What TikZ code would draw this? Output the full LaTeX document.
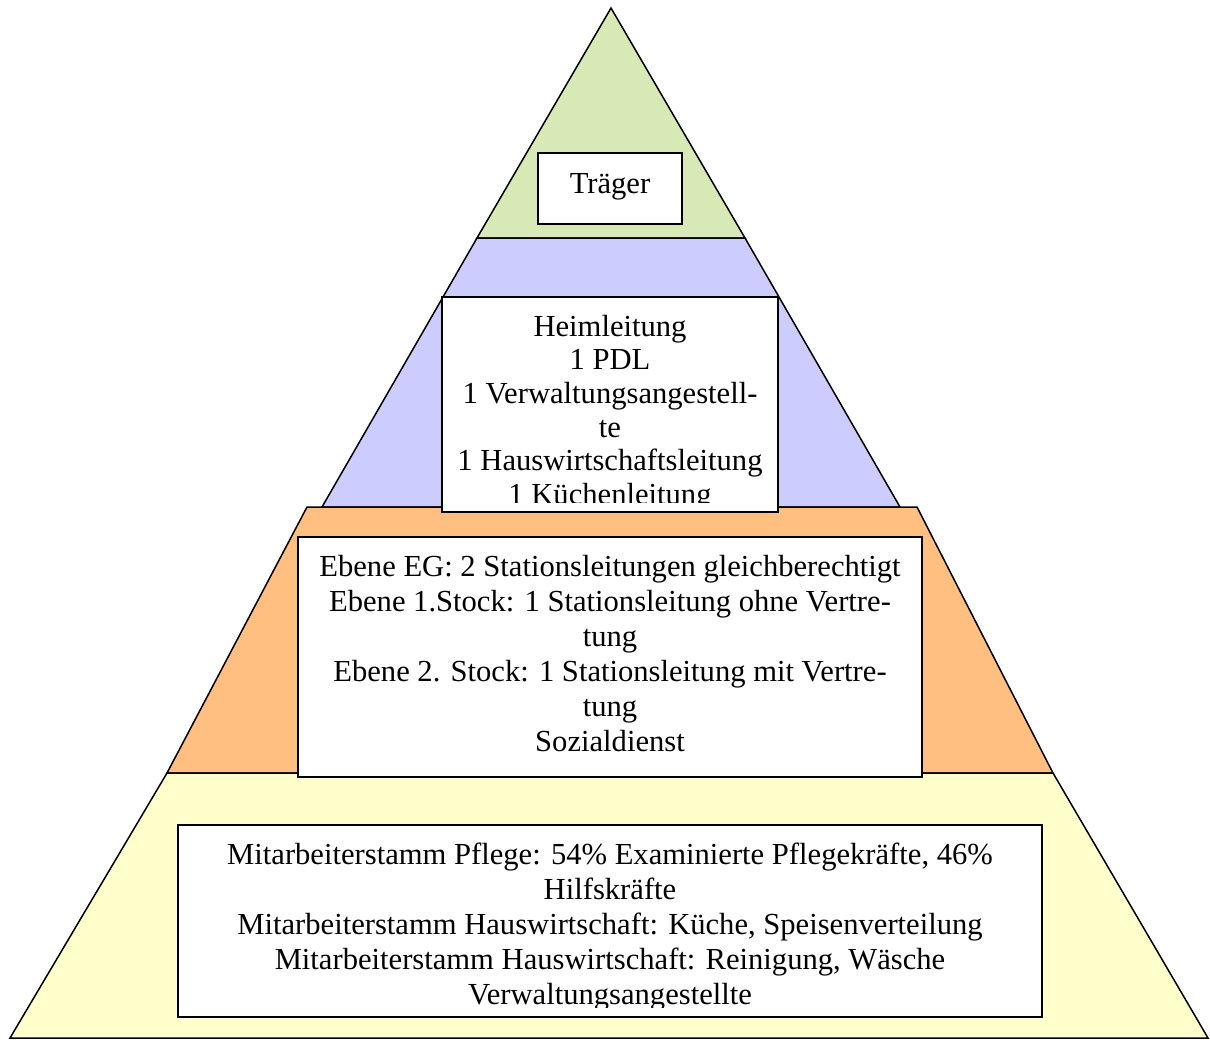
\documentclass[tikz,border=0pt]{standalone}
\usepackage{fontspec}
\setmainfont{Liberation Serif}
\definecolor{bandgreen}{RGB}{215,233,181}
\definecolor{bandblue}{RGB}{204,204,255}
\definecolor{bandorange}{RGB}{255,191,128}
\definecolor{bandyellow}{RGB}{255,255,204}
\begin{document}
\begin{tikzpicture}[x=0.5pt,y=-0.5pt,
  band/.style={draw=black,line width=0.75pt,line join=miter},
  frame/.style={draw=black,fill=white,line width=1pt},
  label/.style={inner sep=0pt,align=center,font=\fontsize{15.3}{17.5}\selectfont},
  tightlabel/.style={label,font=\fontsize{15.3}{16.8}\selectfont}]
\useasboundingbox (0,0) rectangle (1210,1041);

% pyramid levels, top to bottom
\path[band,fill=bandgreen]  (611,8) -- (745,238) -- (477,238) -- cycle;
\path[band,fill=bandblue]   (477,238) -- (745,238) -- (900,507) -- (322,507) -- cycle;
\path[band,fill=bandorange] (307,507) -- (917,507) -- (1053,773) -- (167,773) -- cycle;
\path[band,fill=bandyellow] (167,773) -- (1053,773) -- (1208,1038) -- (10,1038) -- cycle;

% level 1
\draw[frame] (538,153) rectangle (682,224);
\node[label] (traeger) at (610,187) {Träger};

% level 2
\draw[frame] (442,297) rectangle (778,512);
\begin{scope}
  \clip (443,298) rectangle (777,502);
  \node[tightlabel] (leitung) at (610,413) {Heimleitung\\1 PDL\\1 Verwaltungsangestell-\\te\\1 Hauswirtschaftsleitung\\1 Küchenleitung};
\end{scope}

% level 3
\draw[frame] (298,537) rectangle (922,777);
\node[label] (stationen) at (610,654) {Ebene EG: 2 Stationsleitungen gleichberechtigt\\Ebene 1.Stock: 1 Stationsleitung ohne Vertre-\\tung\\Ebene 2. Stock: 1 Stationsleitung mit Vertre-\\tung\\Sozialdienst};

% level 4
\draw[frame] (178,825) rectangle (1042,1017);
\begin{scope}
  \clip (179,826) rectangle (1041,1007);
  \node[label] (stamm) at (610,927) {Mitarbeiterstamm Pflege: 54\% Examinierte Pflegekräfte, 46\%\\Hilfskräfte\\Mitarbeiterstamm Hauswirtschaft: Küche, Speisenverteilung\\Mitarbeiterstamm Hauswirtschaft: Reinigung, Wäsche\\Verwaltungsangestellte};
\end{scope}
\end{tikzpicture}
\end{document}
